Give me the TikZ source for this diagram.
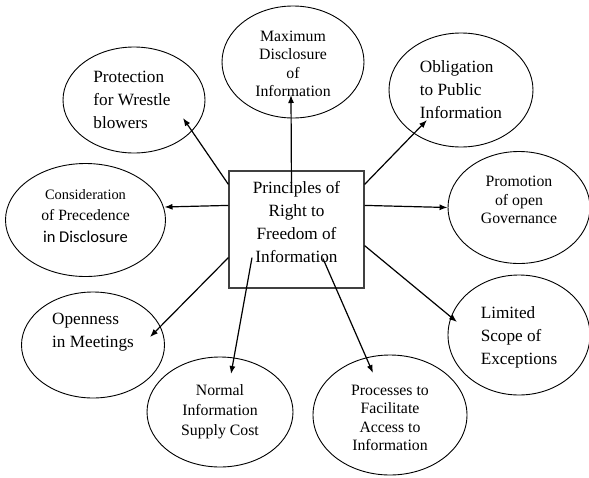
\documentclass[tikz,border=0pt]{standalone}
\usepackage{fontspec}
\setmainfont{Liberation Serif}
\newfontfamily\calfont{Carlito}
\usetikzlibrary{calc,shapes.geometric,arrows.meta}
\tikzset{every node/.style={inner sep=0pt},
  bub/.style={draw,ellipse,line width=0.9pt},
  big/.style={font=\fontsize{17.2}{23}\selectfont},
  small/.style={font=\fontsize{15.8}{18.5}\selectfont},
  arr/.style={-{Latex[length=8pt,width=6pt]},line width=1.2pt}}

\begin{document}
\begin{tikzpicture}[x=1pt,y=-1pt]
  \useasboundingbox (0,0) rectangle (589,477);
  \node[draw=black!75,line width=1.2pt,minimum width=135pt,minimum height=117pt,label={[big,align=center,yshift=7pt]center:Principles of\\Right to\\Freedom of\\Information}] (prin) at (296.5,229.5) {};
  \node[bub,minimum width=142pt,minimum height=112pt,label={[small,align=center,yshift=-2pt]center:Maximum\\Disclosure\\of\\Information}] (maxd) at (293,62) {};
  \node[bub,minimum width=144pt,minimum height=114pt,label={[big,align=left]center:Obligation\\to Public\\Information}] (obl) at (461,90) {};
  \node[bub,minimum width=142pt,minimum height=106pt,label={[big,align=left,xshift=-2pt]center:Protection\\for Wrestle\\blowers}] (prot) at (134,100) {};
  \node[bub,minimum width=160pt,minimum height=113pt,label={[align=center,font=\fontsize{15.7}{21.5}\selectfont,yshift=4pt]center:{\fontsize{14.4}{21.5}\selectfont Consideration}\\of Precedence\\{\calfont\fontsize{16.5}{21.5}\selectfont in Disclosure}}] (cons) at (85.5,220) {};
  \node[bub,minimum width=142pt,minimum height=112pt,label={[small,align=center,yshift=7.5pt]center:Promotion\\of open\\Governance}] (promo) at (519,207.5) {};
  \node[bub,minimum width=143pt,minimum height=106pt,label={[big,align=left,yshift=13pt]center:Openness\\in Meetings}] (open) at (93,345) {};
  \node[bub,minimum width=142pt,minimum height=120pt,label={[big,align=left,yshift=-2pt]center:Limited\\Scope of\\Exceptions}] (lim) at (519,335) {};
  \node[bub,minimum width=146pt,minimum height=110pt,label={[font=\fontsize{15.8}{20}\selectfont,align=center]center:Normal\\Information\\Supply Cost}] (norm) at (220,412) {};
  \node[bub,minimum width=154pt,minimum height=120pt,label={[small,align=center,yshift=-3pt]center:Processes to\\Facilitate\\Access to\\Information}] (proc) at (390,415) {};
  % arrows out of the box
  \draw[arr] ($(prin.north)+(-5,22)$) -- ($(maxd)+(-2,33)$);
  \draw[arr] ($(prin.north east)+(0,14)$) -- ($(obl)+(-34,30)$);
  \draw[arr] ($(prin.north west)+(0,14)$) -- ($(prot)+(49,18)$);
  \draw[arr] ($(prin.north west)+(0,35)$) -- ($(cons)+(79,-13)$);
  \draw[arr] ($(prin.north east)+(0,35)$) -- (promo.west);
  \draw[arr] ($(prin.south west)+(0,-31)$) -- ($(open)+(57,-8)$);
  \draw[arr] ($(prin.south)+(-44.5,-31)$) -- ($(norm)+(11,-38)$);
  \draw[arr] ($(prin.south)+(26.5,-30)$) -- ($(proc)+(-17,-42)$);
  \draw[arr] ($(prin.south east)+(0,-43)$) -- ($(lim)+(-62,-13)$);
\end{tikzpicture}
\end{document}
